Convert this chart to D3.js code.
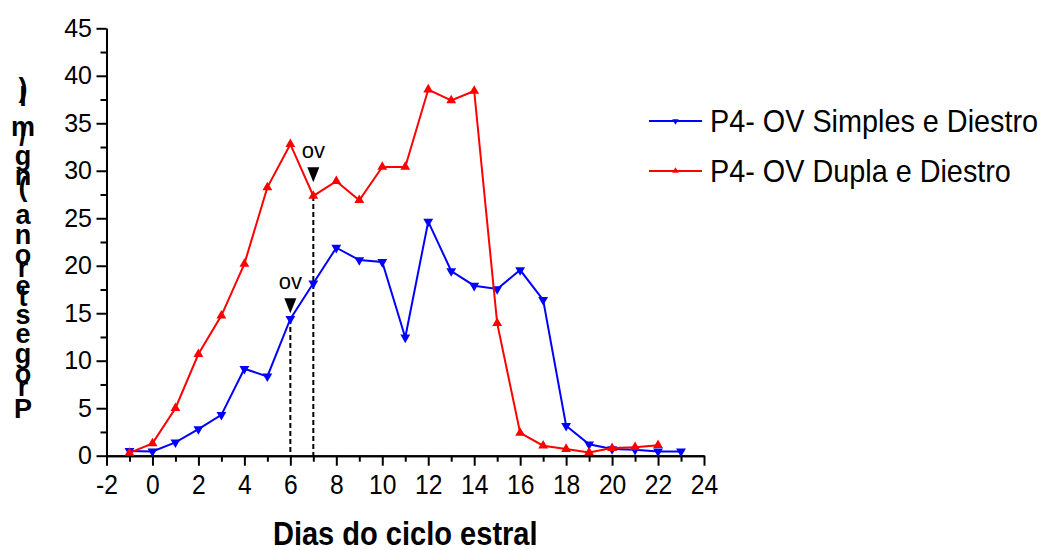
<!DOCTYPE html>
<html lang="pt">
<head>
<meta charset="UTF-8">
<title>Progesterona no ciclo estral</title>
<script src="https://d3js.org/d3.v7.min.js"></script>
<style>
  body { margin: 0; background: #fff; }
  svg { display: block; font-family: "Liberation Sans", Arial, sans-serif; }
</style>
</head>
<body>
<svg id="chart" width="1044" height="550"></svg>
<script>
  // values
  const simplesDays = [-1, 0, 1, 2, 3, 4, 5, 6, 7, 8, 9, 10, 11, 12, 13, 14, 15, 16, 17, 18, 19, 20, 21, 22, 23];
  const simplesP4 = [0.5, 0.45, 1.4, 2.8, 4.3, 9.15, 8.35, 14.4, 18.15, 21.9, 20.6, 20.4, 12.45, 24.65,
                     19.45, 17.9, 17.55, 19.55, 16.4, 3.15, 1.2, 0.7, 0.63, 0.45, 0.45];
  const duplaDays = [-1, 0, 1, 2, 3, 4, 5, 6, 7, 8, 9, 10, 11, 12, 13, 14, 15, 16, 17, 18, 19, 20, 21, 22];
  const duplaP4 = [0.3, 1.3, 5.0, 10.7, 14.75, 20.2, 28.25, 32.8, 27.35, 28.9, 26.9, 30.4, 30.4, 38.55,
                   37.4, 38.4, 13.95, 2.4, 1.05, 0.7, 0.35, 0.8, 0.9, 1.1];
  const seriesNames = ['P4- OV Simples e Diestro', 'P4- OV Dupla e Diestro'];

  const xMajor = [-2, 0, 2, 4, 6, 8, 10, 12, 14, 16, 18, 20, 22, 24];
  const xMinor = [-1, 1, 3, 5, 7, 9, 11, 13, 15, 17, 19, 21, 23];
  const yMajor = [0, 5, 10, 15, 20, 25, 30, 35, 40, 45];
  const yMinor = [2.5, 7.5, 12.5, 17.5, 22.5, 27.5, 32.5, 37.5, 42.5];

  // ovulation marks: day, arrow tip value, which series the dashed line starts from
  const ovDays = [6, 7];
  const ovTips = [15.0, 28.8];
  const ovSeries = [0, 1];

  const xTitle = 'Dias do ciclo estral';
  const yTitle = 'Progesterona (ng/ml)';

  const svg = d3.select('#chart');
  const x = d3.scaleLinear().domain([-2, 24]).range([106.5, 704]);
  const y = d3.scaleLinear().domain([0, 45]).range([455.7, 28.3]);

  const series = [
    { name: seriesNames[0], color: '#0000ff', down: true,
      pts: simplesDays.map((d, i) => [d, simplesP4[i]]) },
    { name: seriesNames[1], color: '#ff0000', down: false,
      pts: duplaDays.map((d, i) => [d, duplaP4[i]]) }
  ];

  function styleAxis(g) {
    g.select('.domain').attr('stroke', '#000').attr('stroke-width', 2);
    g.selectAll('.tick line').attr('stroke', '#000').attr('stroke-width', 2);
    g.attr('font-family', null).attr('font-size', null);
  }

  // x axis: minor then major ticks
  const xg = svg.append('g').attr('transform', `translate(0,${y(0)})`);
  xg.append('g')
    .call(d3.axisBottom(x).tickValues(xMinor).tickSize(6).tickSizeOuter(0).tickFormat(''))
    .call(styleAxis);
  const xMaj = xg.append('g')
    .call(d3.axisBottom(x).tickValues(xMajor).tickSize(10).tickSizeOuter(0).tickPadding(8)
      .tickFormat(d => String(d)))
    .call(styleAxis);
  xMaj.selectAll('.tick text')
    .attr('font-size', 28).attr('fill', '#000')
    .attr('transform', 'scale(0.88,1)');

  // y axis
  const yg = svg.append('g').attr('transform', `translate(${x(-2)},0)`);
  yg.append('g')
    .call(d3.axisLeft(y).tickValues(yMinor).tickSize(6).tickSizeOuter(0).tickFormat(''))
    .call(styleAxis);
  const yMaj = yg.append('g')
    .call(d3.axisLeft(y).tickValues(yMajor).tickSize(10).tickSizeOuter(0).tickPadding(4.5)
      .tickFormat(d => String(d)))
    .call(styleAxis);
  yMaj.selectAll('.tick text').attr('font-size', 25).attr('fill', '#000');

  // dashed ovulation lines
  ovDays.forEach((d, i) => {
    const s = series[ovSeries[i]];
    const v = s.pts.find(p => p[0] === d)[1];
    svg.append('line')
      .attr('x1', x(d)).attr('x2', x(d))
      .attr('y1', y(v)).attr('y2', y(0))
      .attr('stroke', '#000').attr('stroke-width', 2)
      .attr('stroke-dasharray', '5,3');
  });

  // series lines and markers
  const line = d3.line().x(p => x(p[0])).y(p => y(p[1]));
  series.forEach(s => {
    svg.append('path')
      .attr('d', line(s.pts))
      .attr('fill', 'none')
      .attr('stroke', s.color)
      .attr('stroke-width', 2);
    svg.append('g').selectAll('path')
      .data(s.pts)
      .join('path')
      .attr('d', d3.symbol(d3.symbolTriangle, 42))
      .attr('transform', p => `translate(${x(p[0])},${y(p[1])})${s.down ? ' rotate(180)' : ''}`)
      .attr('fill', s.color);
  });

  // ov arrows and labels
  ovDays.forEach((d, i) => {
    const cx = x(d), tip = y(ovTips[i]);
    svg.append('path')
      .attr('d', `M${cx - 6},${tip - 15}L${cx + 6},${tip - 15}L${cx},${tip}Z`)
      .attr('fill', '#000');
    svg.append('text')
      .attr('x', cx).attr('y', tip - 24)
      .attr('text-anchor', 'middle')
      .attr('font-size', 22)
      .text('ov');
  });

  // legend
  series.forEach((s, i) => {
    const ly = 121 + i * 50;
    svg.append('line')
      .attr('x1', 649).attr('x2', 702).attr('y1', ly).attr('y2', ly)
      .attr('stroke', s.color).attr('stroke-width', 2);
    svg.append('path')
      .attr('d', d3.symbol(d3.symbolTriangle, 18))
      .attr('transform', `translate(675.5,${ly})${s.down ? ' rotate(180)' : ''}`)
      .attr('fill', s.color);
    svg.append('text')
      .attr('transform', `translate(710,${ly + 11}) scale(0.9,1)`)
      .attr('font-size', 32)
      .text(s.name);
  });

  // x title
  svg.append('text')
    .attr('transform', `translate(${(x(-2) + x(24)) / 2},545) scale(0.88,1)`)
    .attr('text-anchor', 'middle')
    .attr('font-size', 33)
    .attr('font-weight', 'bold')
    .text(xTitle);

  // y title: upright glyphs stacked bottom to top, as in the source image
  const ctx = document.createElement('canvas').getContext('2d');
  ctx.font = 'bold 33px "Liberation Sans", Arial, sans-serif';
  let cum = 0;
  const yt = svg.append('g')
    .attr('font-size', 27)
    .attr('font-weight', 'bold')
    .attr('text-anchor', 'middle');
  Array.from(yTitle).forEach(ch => {
    if (ch !== ' ') {
      yt.append('text').attr('x', 23).attr('y', 418 - cum).text(ch);
    }
    cum += ctx.measureText(ch).width;
  });
</script>
</body>
</html>
